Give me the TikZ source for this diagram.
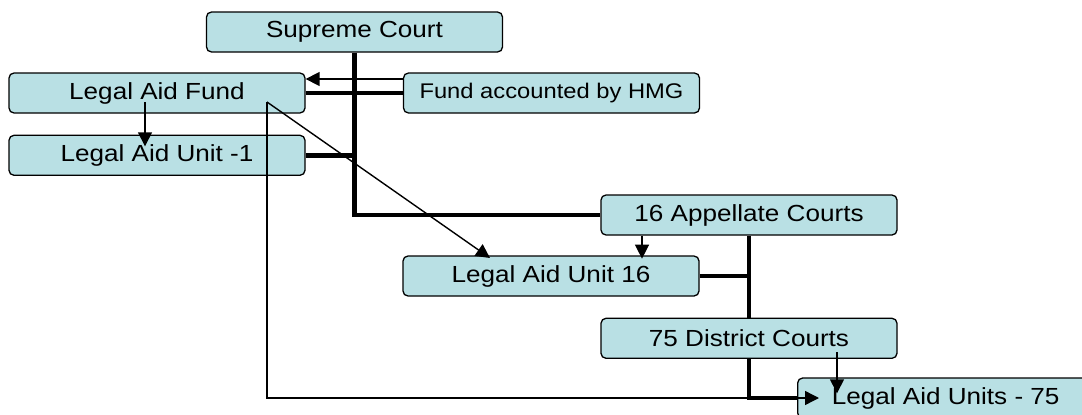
\documentclass[tikz,border=0pt]{standalone}
\usepackage{fontspec}
\setmainfont{Liberation Sans}[FakeStretch=1.12]
\usetikzlibrary{arrows.meta,positioning,calc}
\definecolor{panel}{HTML}{B9E0E4}
\definecolor{ink}{HTML}{000000}
\tikzset{
  every node/.style={text=ink},
  court/.style={draw=ink,line width=1.3pt,rounded corners=5pt,fill=panel,minimum width=296pt,minimum height=40pt,inner sep=0pt,font=\fontsize{23.3}{28}\selectfont},
  smallcourt/.style={court,font=\fontsize{21.2}{26}\selectfont},
  trunk/.style={line width=4.6pt,draw=ink},
  feed/.style={-{Triangle[length=14pt,width=14pt]},line width=1.4pt,draw=ink},
}

\begin{document}
\begin{tikzpicture}[x=1pt,y=-1pt]
\useasboundingbox (0,0) rectangle (1082,415);
\clip (0,0) rectangle (1082,415);

% top level
\node[court] (sc) at (354.5,32) {Supreme Court};
\node[court] (fund) at (157,93) {Legal Aid Fund};
\node[court,below=21pt of fund] (lau1) {Legal Aid Unit -1};
\node[smallcourt] (hmg) at (551.5,93) {Fund accounted by HMG};

% appellate and district level
\node[court] (app) at (749,215) {16 Appellate Courts};
\node[court] (lau16) at (551,276) {Legal Aid Unit 16};
\node[court,below=82pt of app.south,anchor=north] (dc) {75 District Courts};
\node[court,anchor=west] (lau75) at (797,398) {Legal Aid Units - 75};

% hierarchy lines
\draw[trunk] (sc.south) |- (app.west);
\draw[trunk] (fund.east) -- (hmg.west);
\draw[trunk] (lau1.east) -- (lau1.east -| sc.south);
\draw[trunk] (app.south) -- (dc.north);
\draw[trunk] (lau16.east) -- (lau16.east -| app.south);
\draw[trunk] (dc.south) |- (lau75.west);

% fund flows
\coordinate (src) at ([xshift=110pt,yshift=-9pt]fund.center);
\draw[feed] ([yshift=14pt]hmg.west) -- ([yshift=14pt]fund.east);
\draw[feed] ([xshift=-12pt,yshift=-9pt]fund.center) -- ([xshift=-12pt,yshift=9pt]lau1.center);
\draw[feed] (src) -- ([xshift=-61pt,yshift=18pt]lau16.center);
\draw[feed] (src) |- ([xshift=22pt]lau75.west);
\draw[feed] ([xshift=-107pt]app.south) -- ++(0,23);
\draw[feed] ([xshift=88pt,yshift=-14pt]dc.center) -- ++(0,41);

\end{tikzpicture}
\end{document}
